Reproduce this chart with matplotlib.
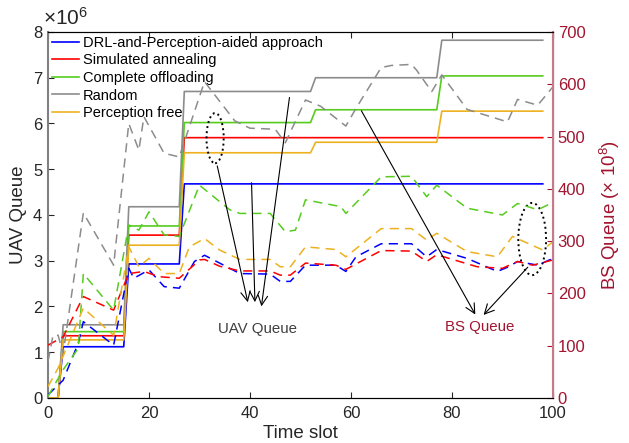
import numpy as np
import matplotlib
matplotlib.use("Agg")
import matplotlib.pyplot as plt
from matplotlib.patches import Ellipse
from matplotlib.ticker import ScalarFormatter

plt.rcParams['font.family'] = ['Liberation Sans', 'DejaVu Sans']
plt.rcParams['mathtext.fontset'] = 'custom'
plt.rcParams['mathtext.rm'] = 'Liberation Sans'
plt.rcParams['mathtext.it'] = 'Liberation Sans:italic'

# UAV queue (solid, left axis) - step vertices
t_uav = [0, 2, 3, 15, 16, 26, 27, 52, 53, 77, 78, 98]
uav_drl = np.array([0, 0, 1.12, 1.12, 2.93, 2.93, 4.68, 4.68, 4.68, 4.68, 4.68, 4.68]) * 1e6
uav_sa = np.array([0, 0, 1.36, 1.36, 3.56, 3.56, 5.69, 5.69, 5.69, 5.69, 5.69, 5.69]) * 1e6
uav_full = np.array([0, 0, 1.45, 1.45, 3.76, 3.76, 6.02, 6.02, 6.30, 6.30, 7.04, 7.04]) * 1e6
uav_rand = np.array([0, 0, 1.60, 1.60, 4.18, 4.18, 6.70, 6.70, 7.00, 7.00, 7.82, 7.82]) * 1e6
uav_free = np.array([0, 0, 1.27, 1.27, 3.34, 3.34, 5.36, 5.36, 5.59, 5.59, 6.27, 6.27]) * 1e6

# BS queue (dashed, right axis, x1e8)
t_bs_drl = [0, 3, 6, 7, 13, 16, 17, 20, 23, 26, 29, 31, 34, 38, 44, 46, 48, 51, 57, 59, 61, 66, 72, 75, 77, 83, 89, 91, 93, 97, 100]
bs_drl = [6, 34, 105, 146, 101, 248, 229, 245, 213, 210, 261, 273, 258, 238, 237, 223, 223, 254, 254, 242, 270, 295, 295, 270, 284, 267, 242, 250, 261, 254, 267]

t_bs_sa = [0, 3, 7, 13, 16, 19, 22, 26, 30, 31, 34, 38, 44, 46, 48, 51, 57, 59, 66, 72, 75, 77, 85, 90, 93, 96, 100]
bs_sa = [101, 117, 194, 168, 238, 242, 232, 229, 264, 265, 252, 243, 243, 235, 235, 258, 254, 246, 282, 281, 261, 274, 251, 248, 261, 254, 264]

t_bs_full = [0, 3, 6, 7, 13, 16, 18, 20, 23, 26, 30, 36, 38, 44, 47, 49, 51, 58, 59, 66, 72, 75, 77, 83, 90, 93, 97, 100]
bs_full = [3, 54, 95, 238, 168, 331, 321, 356, 312, 309, 407, 360, 353, 353, 318, 321, 379, 366, 353, 423, 424, 385, 407, 363, 350, 372, 360, 374]

t_bs_rand = [0, 1, 2, 3, 7, 13, 16, 18, 19, 23, 26, 31, 37, 40, 45, 47, 51, 54, 59, 61, 66, 68, 72, 73, 76, 78, 83, 91, 93, 97, 100]
bs_rand = [70, 120, 120, 85, 354, 254, 525, 474, 538, 468, 461, 605, 530, 516, 514, 488, 570, 558, 520, 554, 632, 636, 638, 627, 586, 618, 552, 528, 571, 560, 595]

t_bs_free = [0, 2, 7, 13, 16, 18, 20, 23, 26, 28, 31, 34, 38, 44, 46, 48, 51, 57, 59, 66, 72, 75, 77, 83, 89, 92, 98, 100]
bs_free = [22, 57, 172, 120, 289, 251, 267, 238, 238, 289, 305, 283, 265, 265, 251, 251, 289, 284, 270, 324, 324, 302, 315, 280, 270, 309, 283, 299]

labels = ['DRL-and-Perception-aided approach', 'Simulated annealing',
          'Complete offloading', 'Random', 'Perception free']
colors = ['#0000FF', '#FF0000', '#55CC1E', '#8C8C8C', '#EDB120']
crimson = '#A2142F'

fig = plt.figure(figsize=(6.29, 4.43), dpi=100)
ax1 = fig.add_axes([0.0763, 0.1016, 0.8027, 0.8262])
ax2 = ax1.twinx()

uav = [uav_drl, uav_sa, uav_full, uav_rand, uav_free]
for vals, c, lab in zip(uav, colors, labels):
    ax1.plot(t_uav, vals, color=c, lw=1.2, label=lab)

bs = [(t_bs_drl, bs_drl), (t_bs_sa, bs_sa), (t_bs_full, bs_full),
      (t_bs_rand, bs_rand), (t_bs_free, bs_free)]
for (tt, vals), c in zip(bs, colors):
    ax2.plot(tt, vals, color=c, lw=1.1, ls=(0, (6, 4)))

ax1.set_xlim(0, 100)
ax1.set_ylim(0, 8e6)
ax2.set_ylim(0, 700)
ax1.set_xticks(np.arange(0, 101, 20))
ax1.set_yticks(np.arange(0, 8.1e6, 1e6))
ax2.set_yticks(np.arange(0, 701, 100))

fmt = ScalarFormatter(useMathText=True)
fmt.set_powerlimits((0, 0))
ax1.yaxis.set_major_formatter(fmt)
ax1.yaxis.get_offset_text().set_visible(False)
ax1.text(-0.01, 1.008, r'$\times$10$^6$', transform=ax1.transAxes, fontsize=15,
         color='#262626', ha='left', va='bottom')

ax1.set_xlabel('Time slot', fontsize=13.5, labelpad=3, color='#262626')
ax1.set_ylabel('UAV Queue', fontsize=13.5, labelpad=4, color='#262626')
ax2.set_ylabel(r'BS Queue ($\times$ 10$^8$)', fontsize=13.5, color=crimson, labelpad=9)

ax1.tick_params(axis='both', direction='in', labelsize=12, colors='#262626', length=4)
ax1.tick_params(axis='x', top=True, pad=6)
ax2.tick_params(axis='y', direction='in', labelsize=12, colors=crimson, length=4)

for sp in ['top', 'bottom']:
    ax1.spines[sp].set_color('#262626')
ax1.spines['left'].set_color('#808080')
ax1.spines['left'].set_linewidth(1.5)
ax2.spines['right'].set_color('#C87A8A')
ax2.spines['right'].set_linewidth(1.5)
ax2.spines['left'].set_visible(False)

leg = ax1.legend(loc='upper left', frameon=False, fontsize=10.5, handlelength=1.9,
                 handletextpad=0.25, labelspacing=0.25, borderaxespad=0.1,
                 borderpad=0.15)

# annotations (in right-axis data coordinates)
ax2.add_patch(Ellipse((33.1, 497), 3.4, 96, fill=False, ls=':', lw=1.4, ec='black'))
ax2.add_patch(Ellipse((95.9, 304), 5.5, 138, fill=False, ls=':', lw=1.4, ec='black'))

arrow = dict(arrowstyle='->', color='black', lw=0.8, mutation_scale=17)
ax2.annotate('', xy=(39.7, 178), xytext=(33.4, 449), arrowprops=arrow)
ax2.annotate('', xy=(41.0, 178), xytext=(40.3, 417), arrowprops=arrow)
ax2.annotate('', xy=(42.2, 170), xytext=(47.9, 580), arrowprops=arrow)
ax2.annotate('', xy=(84.9, 155), xytext=(61.8, 554), arrowprops=arrow)
ax2.annotate('', xy=(85.9, 155), xytext=(95.4, 254), arrowprops=arrow)

ax2.text(41.5, 132, 'UAV Queue', color='#404040', fontsize=10.8, ha='center', va='center')
ax2.text(85.5, 136, 'BS Queue', color=crimson, fontsize=10.8, ha='center', va='center')

fig.savefig('out.png', dpi=100)
